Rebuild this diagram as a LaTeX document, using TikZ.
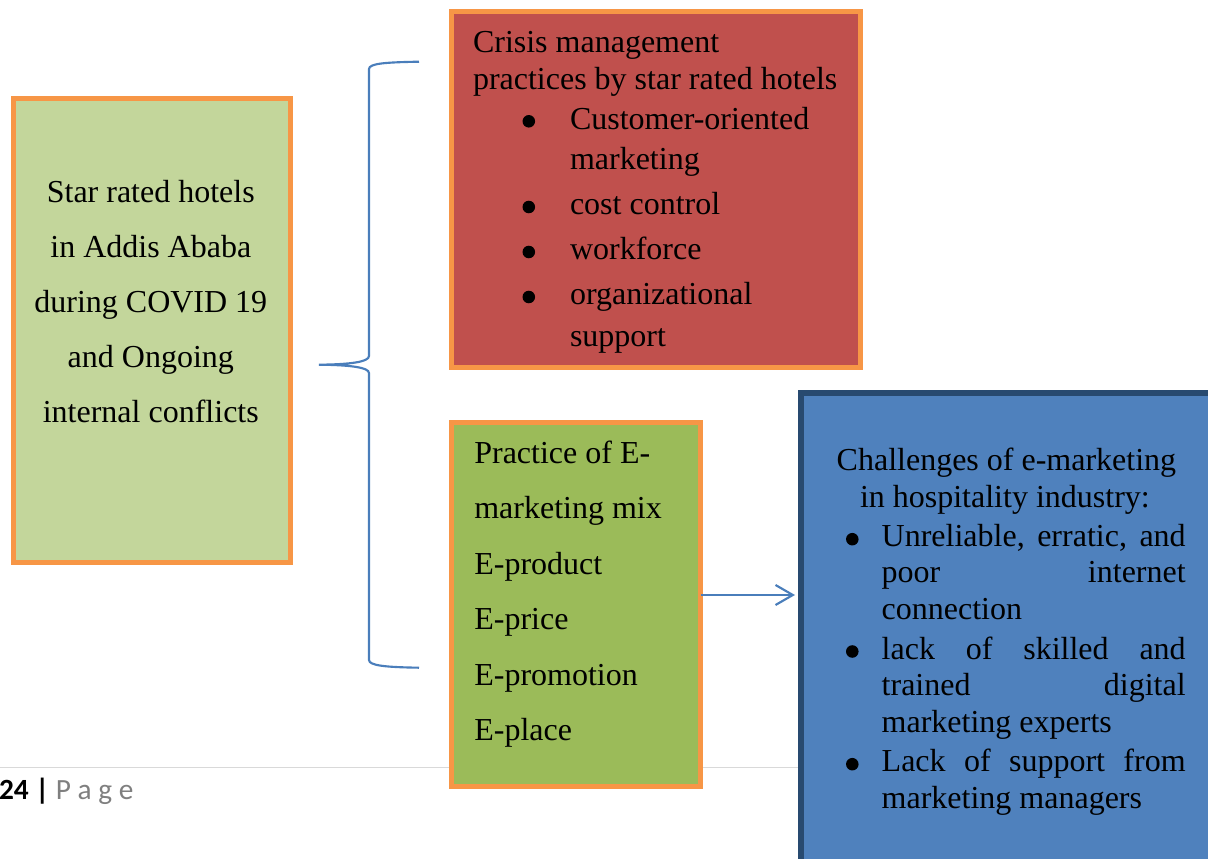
\documentclass[tikz,border=0pt]{standalone}
\usepackage{fontspec}
\setmainfont{Liberation Serif}
\newfontfamily\footfont{Carlito}
\usetikzlibrary{arrows.meta,fit}

\definecolor{frameorange}{HTML}{F79646}
\definecolor{palegreen}{HTML}{C3D69B}
\definecolor{brickred}{HTML}{C0504D}
\definecolor{olivegreen}{HTML}{9BBB59}
\definecolor{steelblue}{HTML}{4F81BD}
\definecolor{navyline}{HTML}{284A70}
\definecolor{linkblue}{HTML}{4A7EBB}
\definecolor{rulegray}{HTML}{D9D9D9}
\definecolor{pagegray}{HTML}{7F7F7F}

\begin{document}
\begin{tikzpicture}[x=0.75pt,y=-0.75pt,
  every node/.style={inner sep=0pt, outer sep=0pt},
  panel/.style={draw=frameorange, line width=3.75pt},
  bluepanel/.style={draw=navyline, line width=4.2pt, fill=steelblue},
  txt/.style={anchor=base west, font=\fontsize{24}{28}\selectfont},
  ctxt/.style={anchor=base, font=\fontsize{24}{28}\selectfont},
  dot/.style={circle, fill=black, minimum size=9.4pt},
  bracepen/.style={draw=linkblue, line width=1.6pt},
  linkarrow/.style={draw=linkblue, line width=1.6pt,
    -{Straight Barb[length=13pt,width=15pt,line width=1.6pt]}},
  pagerule/.style={draw=rulegray, line width=1.1pt}]

\useasboundingbox (0,0) rectangle (1208,859);
\clip (0,0) rectangle (1208,859);

% page footer rule (runs behind the boxes)
\coordinate (ruleL) at (0,767.7);
\coordinate (ruleR) at (799,767.7);
\draw[pagerule] (ruleL) -- (ruleR);

% boxes
\node[panel, fill=palegreen, fit={(13.2,98.5) (290.2,562.5)}] (hotels) {};
\node[panel, fill=brickred, fit={(451.5,11.8) (860.5,367.5)}] (crisis) {};
\node[panel, fill=olivegreen, fit={(451.8,422.5) (700.8,786.8)}] (emix) {};
\node[bluepanel, fit={(801.2,392.8) (1225,880)}] (challenges) {};

% left box text
\node[ctxt] (h1) at (150.8,203) {Star rated hotels};
\node[ctxt] (h2) at (150.8,258) {in Addis Ababa};
\node[ctxt] (h3) at (150.8,313) {during COVID 19};
\node[ctxt] (h4) at (150.8,368) {and Ongoing};
\node[ctxt] (h5) at (150.8,423) {internal conflicts};

% crisis management box text
\node[txt] (c1) at (473,52.7) {Crisis management};
\node[txt] (c2) at (473,89.3) {practices by star rated hotels};
\node[dot] (cb1) at (528.8,121.3) {};
\node[txt] (c3) at (570,129.3) {Customer-oriented};
\node[txt] (c4) at (570,169.3) {marketing};
\node[dot] (cb2) at (528.8,207) {};
\node[txt] (c5) at (570,215) {cost control};
\node[dot] (cb3) at (528.8,252) {};
\node[txt] (c6) at (570,260) {workforce};
\node[dot] (cb4) at (528.8,297) {};
\node[txt] (c7) at (570,305) {organizational};
\node[txt] (c8) at (570,346.7) {support};

% e-marketing mix box text
\node[txt] (e1) at (474.3,463.3) {Practice of E-};
\node[txt] (e2) at (474.3,518.3) {marketing mix};
\node[txt] (e3) at (474.3,575) {E-product};
\node[txt] (e4) at (474.3,629.3) {E-price};
\node[txt] (e5) at (474.3,685) {E-promotion};
\node[txt] (e6) at (474.3,740) {E-place};

% challenges box text
\node[txt] (b1) at (836.7,470.7) {Challenges of e-marketing};
\node[txt] (b2) at (860,507.7) {in hospitality industry:};
\node[dot] (bb1) at (852.3,539.2) {};
\node[txt] (b3) at (881.7,546.7) {\makebox[228pt][s]{Unreliable, erratic, and}};
\node[txt] (b4) at (881.7,582.7) {\makebox[228pt][s]{poor internet}};
\node[txt] (b5) at (881.7,619) {connection};
\node[dot] (bb2) at (852.3,651.5) {};
\node[txt] (b6) at (881.7,659) {\makebox[228pt][s]{lack of skilled and}};
\node[txt] (b7) at (881.7,695) {\makebox[228pt][s]{trained digital}};
\node[txt] (b8) at (881.7,732) {marketing experts};
\node[dot] (bb3) at (852.3,764.2) {};
\node[txt] (b9) at (881.7,771.7) {\makebox[228pt][s]{Lack of support from}};
\node[txt] (b10) at (881.7,808) {marketing managers};

% curly brace grouping the two practice boxes
\draw[bracepen] (419,61.7) .. controls (385,62.3) and (369,63.5) .. (369,69)
  -- (369,356) .. controls (369,362) and (350,364.4) .. (319,364.7)
  .. controls (350,365) and (369,367.4) .. (369,373)
  -- (369,660) .. controls (369,665.5) and (385,667.2) .. (419,667.7);

% arrow from the e-marketing mix to the challenges
\coordinate (arrowtip) at (795,595);
\draw[linkarrow] (emix.east |- arrowtip) -- (arrowtip);

% page number
\node[anchor=base west, font=\footfont\fontsize{22}{26}\selectfont] (pagenum) at (-1,799.3)
  {\textbf{24 |} \textcolor{pagegray}{P a g e}};
\end{tikzpicture}
\end{document}
